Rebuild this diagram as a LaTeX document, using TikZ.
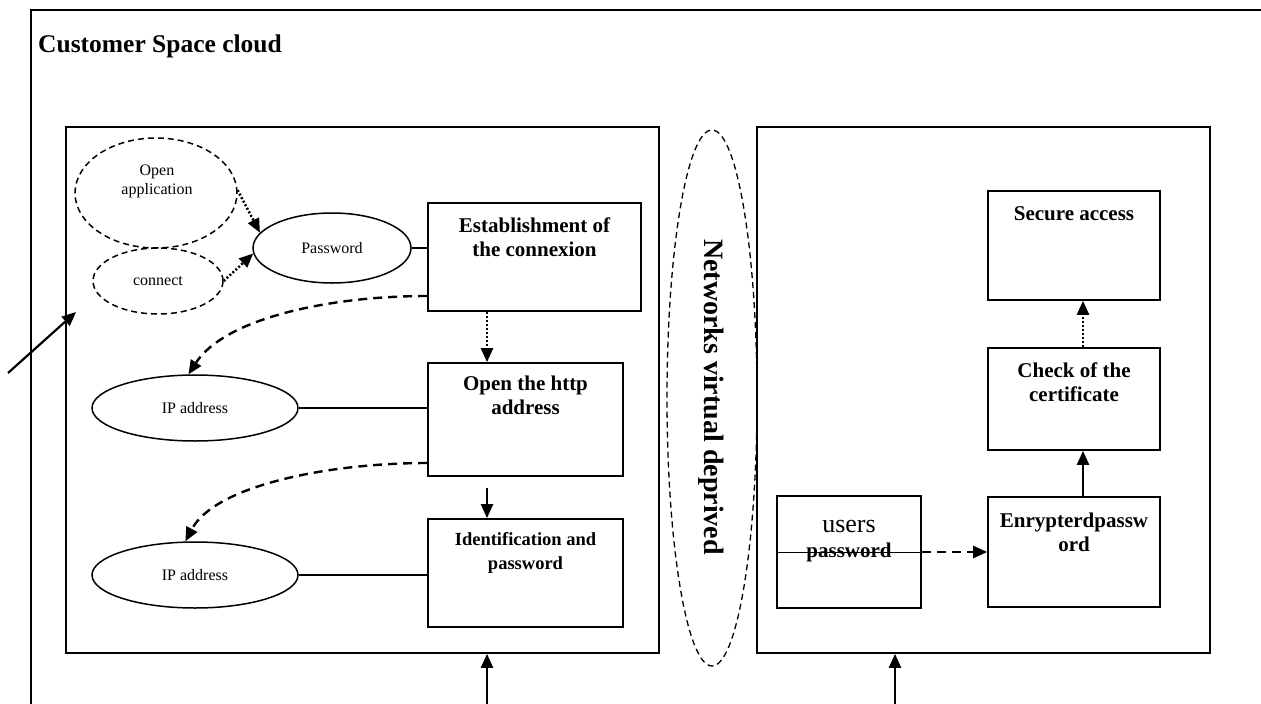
\documentclass[tikz,border=0pt]{standalone}
\usepackage{fontspec}
\setmainfont{Liberation Serif}
\usetikzlibrary{arrows.meta,shapes.geometric}
\newcommand\fBox{\fontsize{21}{24}\selectfont\bfseries}
\newcommand\fIdent{\fontsize{18.5}{24}\selectfont\bfseries}
\newcommand\fSmall{\fontsize{16}{19}\selectfont}
\newcommand\fTitle{\fontsize{25.5}{28}\selectfont\bfseries}
\newcommand\fNet{\fontsize{28}{32}\selectfont\bfseries}
\begin{document}
\begin{tikzpicture}[x=1pt,y=-1pt,
  box/.style={draw, line width=1.7pt, rectangle, inner sep=0pt},
  ell/.style={draw, ellipse, line width=1.5pt, inner sep=0pt, font=\fSmall},
  dell/.style={ell, dash pattern=on 6pt off 4pt},
  btxt/.style={anchor=north, align=center, inner sep=0pt, font=\fBox},
  tip/.style={-{Triangle[length=14pt,width=12pt]}},
  solidarrow/.style={tip, line width=2.2pt},
  dotarrow/.style={tip, line width=2.5pt, dash pattern=on 2pt off 2pt},
  dasharrow/.style={tip, line width=2.4pt, dash pattern=on 9pt off 6pt},
  link/.style={line width=1.4pt}
]
\useasboundingbox (0,0) rectangle (1261,704);
\clip (0,0) rectangle (1261,704);
% outer frame
\draw[line width=2pt] (1300,10) -- (31,10) -- (31,720);
\node[anchor=base west, inner sep=0pt, font=\fTitle] (title) at (38,52) {Customer Space cloud};

% inner boxes
\node[box, minimum width=593pt, minimum height=526pt] (lbox) at (362.5,390) {};
\node[box, minimum width=453pt, minimum height=526pt] (rbox) at (983.5,390) {};

% network ellipse
\node[draw, ellipse, line width=1.3pt, dash pattern=on 6pt off 4pt, minimum width=90pt, minimum height=536pt, inner sep=0pt] (net) at (712,398) {};
\node[rotate=-90, font=\fNet, inner sep=0pt] (nettxt) at (711,397) {Networks virtual deprived};

% left side
\node[dell, minimum width=162pt, minimum height=110pt] (openapp) at (156,193) {};
\node[align=center, font=\fSmall, inner sep=0pt] (openapptxt) at (157,181) {Open\\application};
\node[dell, minimum width=130pt, minimum height=66pt] (connect) at (158,281) {connect};
\node[ell, minimum width=158pt, minimum height=70pt] (pwd) at (332,248) {Password};

\node[box, minimum width=213pt, minimum height=108pt] (estab) at (534.5,257) {};
\node[btxt] (estabtxt) at ([yshift=-15pt]estab.north) {Establishment of\\the connexion};
\node[box, minimum width=195pt, minimum height=113pt] (open) at (525.5,419.5) {};
\node[btxt] (opentxt) at ([yshift=-14pt]open.north) {Open the http\\address};
\node[box, minimum width=195pt, minimum height=108pt] (ident) at (525.5,573) {};
\node[btxt, font=\fIdent] (identtxt) at ([yshift=-14pt]ident.north) {Identification and\\password};

\node[ell, minimum width=206pt, minimum height=66pt] (ip1) at (195,408) {IP address};
\node[ell, minimum width=206pt, minimum height=66pt] (ip2) at (195,575) {IP address};

\draw[link] (pwd.east) -- (pwd.east -| estab.west);
\draw[link] (ip1.east) -- (ip1.east -| open.west);
\draw[link] (ip2.east) -- (ip2.east -| ident.west);

\draw[dotarrow] (openapp.2) -- (pwd.168);
\draw[dotarrow] (connect.east) -- (pwd.184);
\draw[dotarrow] ([xshift=-47.5pt]estab.south) -- ([xshift=-38.5pt]open.north);
\draw[solidarrow] ([xshift=-38.5pt,yshift=-11pt]open.south) -- ([xshift=-38.5pt]ident.north);

\draw[dasharrow] ([yshift=-39pt]estab.west) .. controls (330,296) and (225,318) .. (ip1.101);
\draw[dasharrow] ([yshift=-43.5pt]open.west) .. controls (330,463) and (215,485) .. (ip2.106);

% incoming arrows
\coordinate (c0) at (8,373);
\coordinate (c1) at (76,312);
\draw[solidarrow] (c0) -- (c1);
\coordinate (b1) at (487,704);
\coordinate (b2) at (895,704);
\draw[solidarrow] (b1) -- (b1 |- lbox.south);
\draw[solidarrow] (b2) -- (b2 |- rbox.south);

% right side
\node[box, minimum width=172pt, minimum height=109pt] (secure) at (1074,245.5) {};
\node[btxt] (securetxt) at ([yshift=-16pt]secure.north) {Secure access};
\node[box, minimum width=172pt, minimum height=102pt] (check) at (1074,399) {};
\node[btxt] (checktxt) at ([yshift=-15pt]check.north) {Check of the\\certificate};
\node[box, minimum width=172pt, minimum height=110pt] (enr) at (1074,552) {};
\node[btxt] (enrtxt) at ([yshift=-17pt]enr.north) {Enrypterdpassw\\ord};
\node[box, minimum width=144pt, minimum height=112pt] (users) at (849,552) {};
\node[anchor=base, inner sep=0pt, font=\fontsize{26}{28}\selectfont] (userstxt) at (849,532) {users};
\node[anchor=base, inner sep=0pt, font=\fBox] (userspwd) at (849,557) {password};
\draw[line width=1pt] (users.west) -- (users.east);
\draw[dasharrow] (users.east) -- (enr.west);

\draw[dotarrow] ([xshift=9pt]check.north) -- ([xshift=9pt]secure.south);
\draw[solidarrow] ([xshift=9pt]enr.north) -- ([xshift=9pt]check.south);
\end{tikzpicture}
\end{document}
